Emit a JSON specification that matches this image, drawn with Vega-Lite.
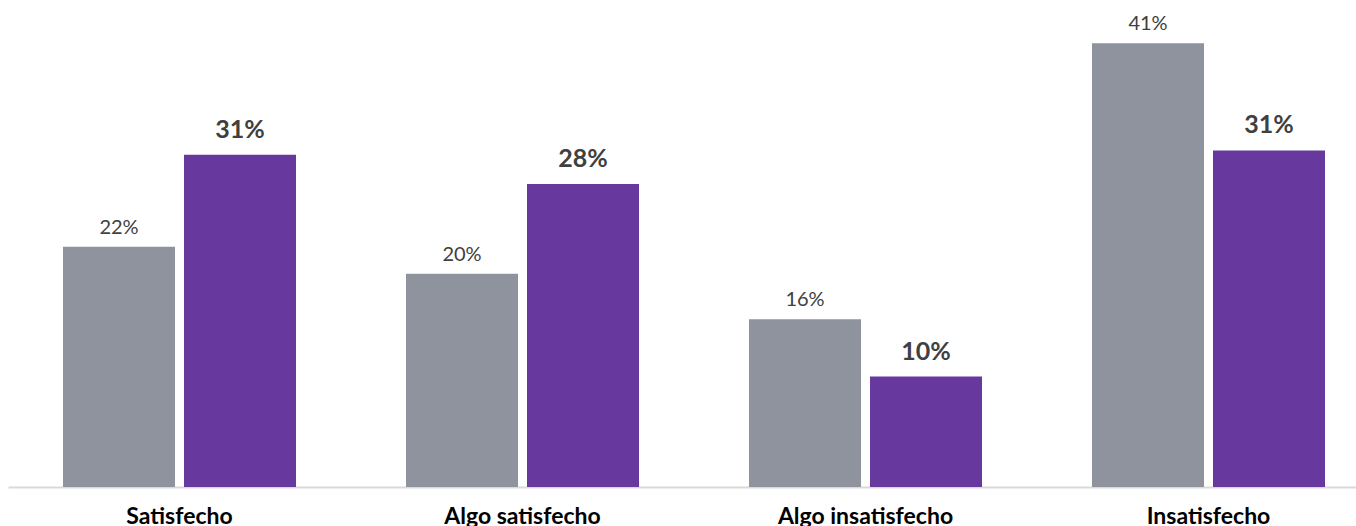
{
  "$schema": "https://vega.github.io/schema/vega-lite/v6.json",
  "autosize": {"type": "none"},
  "width": 1348,
  "height": 487,
  "padding": {"left": 8, "top": 0, "right": 0, "bottom": 39},
  "background": "white",
  "config": {"view": {"stroke": null}, "font": "Lato"},
  "data": {
    "values": [
      {"categoria": "Satisfecho", "serie": "Serie 1", "valor": 22.2, "etiqueta": "22%"},
      {"categoria": "Satisfecho", "serie": "Serie 2", "valor": 30.7, "etiqueta": "31%"},
      {"categoria": "Algo satisfecho", "serie": "Serie 1", "valor": 19.7, "etiqueta": "20%"},
      {"categoria": "Algo satisfecho", "serie": "Serie 2", "valor": 28.0, "etiqueta": "28%"},
      {"categoria": "Algo insatisfecho", "serie": "Serie 1", "valor": 15.5, "etiqueta": "16%"},
      {"categoria": "Algo insatisfecho", "serie": "Serie 2", "valor": 10.2, "etiqueta": "10%"},
      {"categoria": "Insatisfecho", "serie": "Serie 1", "valor": 41.0, "etiqueta": "41%"},
      {"categoria": "Insatisfecho", "serie": "Serie 2", "valor": 31.1, "etiqueta": "31%"}
    ]
  },
  "encoding": {
    "x": {
      "field": "categoria", "type": "nominal",
      "sort": ["Satisfecho", "Algo satisfecho", "Algo insatisfecho", "Insatisfecho"],
      "scale": {"range": [0, 1372], "paddingInner": 0.3207, "paddingOuter": 0.16035},
      "axis": {
        "title": null, "labelAngle": 0, "ticks": false,
        "domainColor": "#D9D9D9", "domainWidth": 2,
        "labelFont": "Lato", "labelFontWeight": "bold", "labelFontSize": 23,
        "labelColor": "#000000", "labelPadding": 36, "labelBaseline": "alphabetic"
      }
    },
    "xOffset": {
      "field": "serie", "type": "nominal",
      "scale": {"paddingInner": 0.0744, "paddingOuter": 0}
    },
    "y": {
      "field": "valor", "type": "quantitative",
      "scale": {"domain": [0, 45], "nice": false},
      "axis": null
    }
  },
  "layer": [
    {
      "mark": {"type": "bar"},
      "encoding": {
        "color": {
          "field": "serie", "type": "nominal",
          "scale": {"domain": ["Serie 1", "Serie 2"], "range": ["#8F939E", "#67399E"]},
          "legend": null
        }
      }
    },
    {
      "transform": [{"filter": "datum.serie === 'Serie 1'"}],
      "mark": {"type": "text", "baseline": "alphabetic", "dy": -13, "font": "Lato", "fontSize": 20, "color": "#404040"},
      "encoding": {"text": {"field": "etiqueta"}}
    },
    {
      "transform": [{"filter": "datum.serie === 'Serie 2'"}],
      "mark": {"type": "text", "baseline": "alphabetic", "dy": -17, "font": "Lato", "fontSize": 25, "fontWeight": "bold", "color": "#404040"},
      "encoding": {"text": {"field": "etiqueta"}}
    }
  ]
}
